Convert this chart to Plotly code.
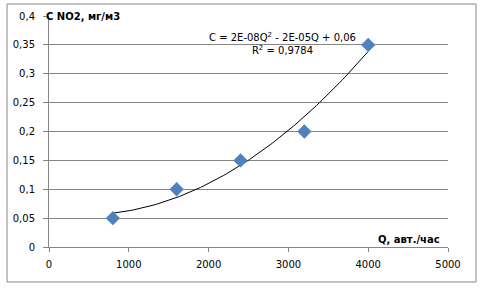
import numpy as np
import plotly.graph_objects as go

q_values = [800, 1600, 2400, 3200, 4000]
c_values = [0.05, 0.10, 0.15, 0.20, 0.35]
x_ticks = [0, 1000, 2000, 3000, 4000, 5000]
y_ticks = [0, 0.05, 0.1, 0.15, 0.2, 0.25, 0.3, 0.35, 0.4]
y_tick_labels = ["0", "0,05", "0,1", "0,15", "0,2", "0,25", "0,3", "0,35", "0,4"]

coef = np.polyfit(q_values, c_values, 2)
q_fit = np.linspace(min(q_values), max(q_values), 100)
c_fit = np.polyval(coef, q_fit)

FONT = "DejaVu Sans"
GRID = "#868686"

fig = go.Figure()
fig.add_trace(go.Scatter(x=q_fit, y=c_fit, mode="lines",
                         line=dict(color="black", width=1),
                         hoverinfo="skip", showlegend=False))
fig.add_trace(go.Scatter(x=q_values, y=c_values, mode="markers",
                         marker=dict(symbol="diamond", size=11, color="#4F81BD",
                                     line=dict(width=0)),
                         showlegend=False))

fig.update_layout(
    width=482, height=288,
    margin=dict(l=49, r=34, t=16, b=41),
    paper_bgcolor="white", plot_bgcolor="white",
    font=dict(family=FONT, size=10, color="black"),
    xaxis=dict(range=[0, 5000], tickvals=x_ticks, ticktext=[str(t) for t in x_ticks],
               showgrid=False, zeroline=False, showline=True, linecolor=GRID, linewidth=1,
               ticks="outside", ticklen=4, tickcolor=GRID, tickfont=dict(size=10),
               ticklabelstandoff=4, automargin=False, fixedrange=True),
    yaxis=dict(range=[0, 0.4], tickvals=y_ticks, ticktext=y_tick_labels,
               showgrid=True, gridcolor=GRID, gridwidth=1, zeroline=False,
               showline=True, linecolor=GRID, linewidth=1,
               ticks="outside", ticklen=5, tickcolor=GRID, tickfont=dict(size=10),
               ticklabelstandoff=6, automargin=False, fixedrange=True),
    shapes=[dict(type="rect", xref="paper", yref="paper",
                 x0=-42/399, x1=427/399, y0=-35/231, y1=243/231,
                 line=dict(color=GRID, width=1), fillcolor="rgba(0,0,0,0)", layer="below")],
    annotations=[
        dict(x=0, y=0.4, xref="paper", yref="y", text="<b>C NO2, мг/м3</b>",
             showarrow=False, xanchor="left", yanchor="middle", xshift=-5,
             font=dict(size=10, family=FONT)),
        dict(x=5000, y=0, xref="x", yref="y", text="<b>Q, авт./час</b>",
             showarrow=False, xanchor="right", yanchor="bottom", xshift=-6, yshift=0,
             font=dict(size=10, family=FONT)),
        dict(x=2930, y=0.352, xref="x", yref="y",
             text="C = 2E-08Q<sup>2</sup> - 2E-05Q + 0,06<br>R<sup>2</sup> = 0,9784",
             showarrow=False, xanchor="center", yanchor="middle",
             font=dict(size=10, family=FONT)),
    ],
)

fig.write_html("out.html", config={"displayModeBar": False},
               post_script="document.body.style.margin='0';")
